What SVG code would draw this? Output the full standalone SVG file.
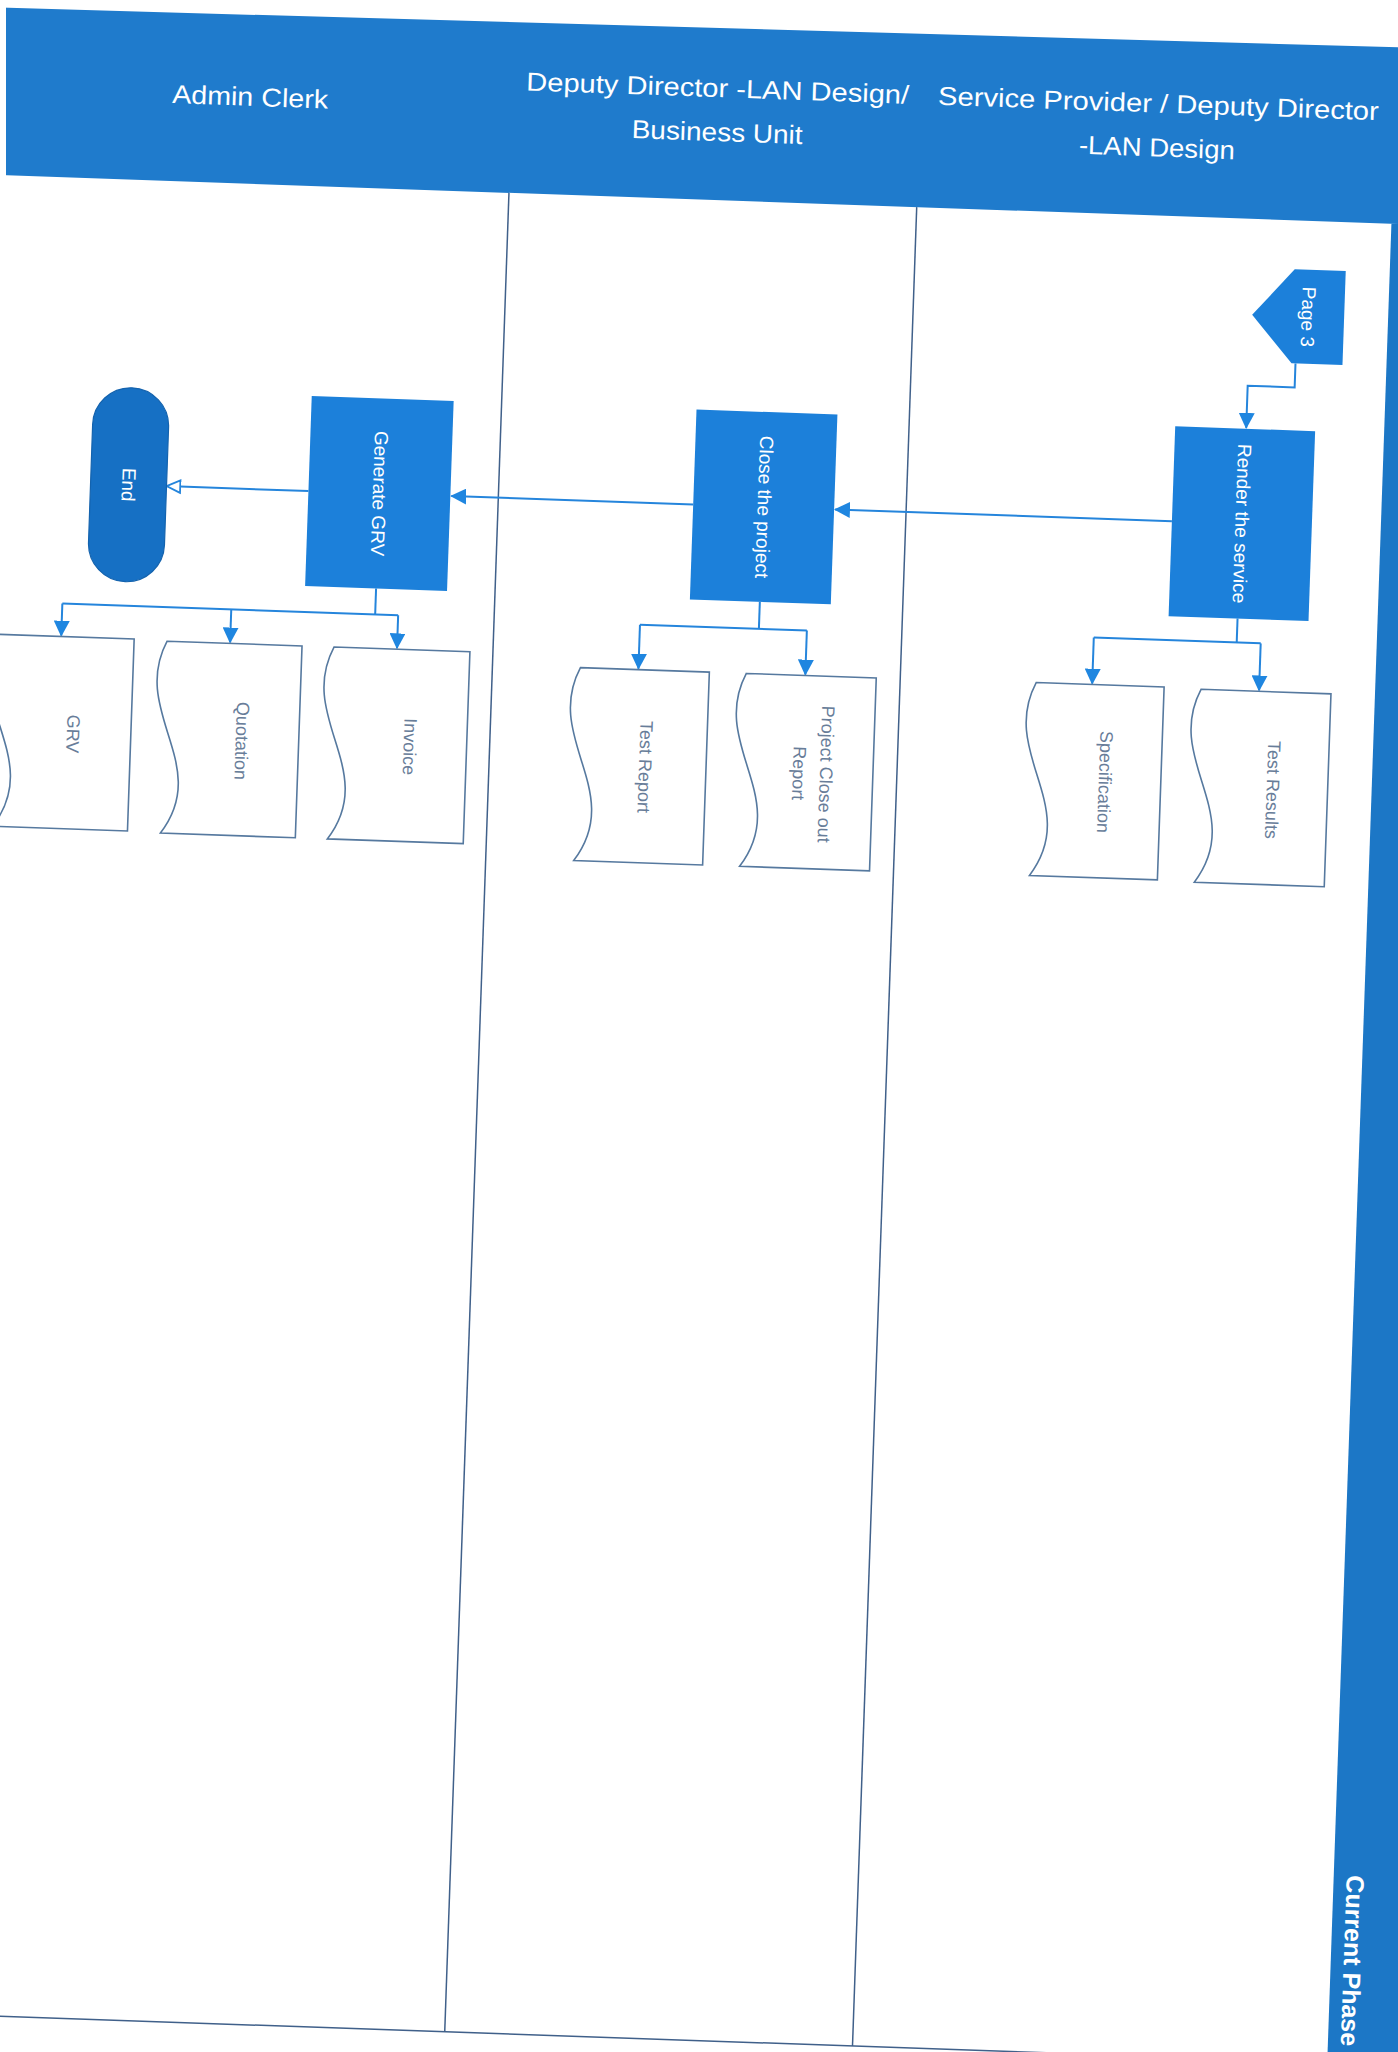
<svg xmlns="http://www.w3.org/2000/svg" width="1398" height="2052" viewBox="0 0 1398 2052">
<defs>
<style>
.hdr{fill:#1f7bcc}
.bar{fill:#1c77c6}
.lane{stroke:#40608a;stroke-width:1.5;fill:none}
.proc{fill:#1c80da}
.term{fill:#1670c4;stroke:#1463ae;stroke-width:1.2}
.doc{fill:#ffffff;stroke:#56799f;stroke-width:1.6}
.ht{font-family:"Liberation Sans",Arial,sans-serif;font-size:26px;fill:#ffffff;text-anchor:middle}
.nt{font-family:"Liberation Sans",Arial,sans-serif;font-size:19px;fill:#ffffff;text-anchor:middle;dominant-baseline:central}
.dt{font-family:"Liberation Sans",Arial,sans-serif;font-size:18px;fill:#687d99;text-anchor:middle;dominant-baseline:central}
.ct{font-family:"Liberation Sans",Arial,sans-serif;font-size:25px;font-weight:bold;fill:#ffffff;dominant-baseline:central}
.con{stroke:#2585dc;stroke-width:2;fill:none}
</style>
<marker id="arr" markerUnits="userSpaceOnUse" markerWidth="16" markerHeight="16" viewBox="0 0 14 14" refX="13" refY="7" orient="auto">
<path d="M0,0 L14,7 L0,14 z" fill="#1f86e0"/>
</marker>
<marker id="arrO" markerUnits="userSpaceOnUse" markerWidth="16" markerHeight="16" viewBox="0 0 14 14" refX="13" refY="7" orient="auto">
<path d="M1,1.5 L13,7 L1,12.5 z" fill="#ffffff" stroke="#2585dc" stroke-width="1.6"/>
</marker>
</defs>
<rect width="1398" height="2052" fill="#ffffff"/>
<g transform="rotate(2 699 1026)">
  <g id="lanes">
    <path class="hdr" d="M-60,32.8 L1460,22.9 L1460,200 L-60,200 Z"/>
    <rect class="bar" x="1363" y="200" width="100" height="1900"/>
    <line class="lane" x1="480" y1="200" x2="480" y2="2040"/>
    <line class="lane" x1="888" y1="200" x2="888" y2="2040"/>
    <line class="lane" x1="-60" y1="2040" x2="1363" y2="2040"/>
    <text class="ht" x="218" y="122" textLength="156" lengthAdjust="spacingAndGlyphs">Admin Clerk</text>
    <text class="ht" x="685" y="97" textLength="383" lengthAdjust="spacingAndGlyphs">Deputy Director -LAN Design/</text>
    <text class="ht" x="686" y="141" textLength="171" lengthAdjust="spacingAndGlyphs">Business Unit</text>
    <text class="ht" x="1126" y="97" textLength="441" lengthAdjust="spacingAndGlyphs">Service Provider / Deputy Director</text>
    <text class="ht" x="1126" y="141" textLength="156" lengthAdjust="spacingAndGlyphs">-LAN Design</text>
    <text class="ct" transform="translate(1385,1852) rotate(90)">Current Phase</text>
  </g>
  <g id="connectors">
    <path class="con" d="M1272,343 V367 H1225 V409" marker-end="url(#arr)"/>
    <path class="con" d="M1154,505 H817" marker-end="url(#arr)"/>
    <path class="con" d="M675,505 H433" marker-end="url(#arr)"/>
    <path class="con" d="M290,505 H148" marker-end="url(#arrO)"/>
    <path class="con" d="M361,600 V626"/>
    <path class="con" d="M48,626 H384"/>
    <path class="con" d="M48,626 V658" marker-end="url(#arr)"/>
    <path class="con" d="M217,626 V659" marker-end="url(#arr)"/>
    <path class="con" d="M384,626 V659" marker-end="url(#arr)"/>
    <path class="con" d="M745,600 V627"/>
    <path class="con" d="M626,627 H793"/>
    <path class="con" d="M626,627 V671" marker-end="url(#arr)"/>
    <path class="con" d="M793,627 V671" marker-end="url(#arr)"/>
    <path class="con" d="M1223,600 V624"/>
    <path class="con" d="M1080,624 H1247"/>
    <path class="con" d="M1080,624 V670" marker-end="url(#arr)"/>
    <path class="con" d="M1247,624 V671" marker-end="url(#arr)"/>
  </g>
  <g id="page3">
    <path class="proc" d="M1268,249 H1319 V343 H1268 L1227,296 Z"/>
    <text class="nt" transform="translate(1283,296) rotate(90)">Page 3</text>
  </g>
  <g id="render">
    <rect class="proc" x="1154" y="410" width="140" height="190"/>
    <text class="nt" transform="translate(1224,505) rotate(90)">Render the service</text>
  </g>
  <g id="close">
    <rect class="proc" x="675" y="410" width="141" height="190"/>
    <text class="nt" transform="translate(746,505) rotate(90)">Close the project</text>
  </g>
  <g id="generate">
    <rect class="proc" x="290" y="410" width="142" height="190"/>
    <text class="nt" transform="translate(361,505) rotate(90)">Generate GRV</text>
  </g>
  <g id="end">
    <rect class="term" x="72" y="408" width="76" height="194" rx="38" ry="38"/>
    <text class="nt" transform="translate(110,505) rotate(90)">End</text>
  </g>
  <g id="doc-grv">
    <path class="doc" d="M-14,659 H121 V851 H-14 C36,781 -49,731 -14,659 Z"/>
    <text class="dt" transform="translate(63,756) rotate(90)">GRV</text>
  </g>
  <g id="doc-quotation">
    <path class="doc" d="M154,660 H289 V852 H154 C204,782 119,732 154,660 Z"/>
    <text class="dt" transform="translate(232,757) rotate(90)">Quotation</text>
  </g>
  <g id="doc-invoice">
    <path class="doc" d="M321,660 H457 V852 H321 C371,782 286,732 321,660 Z"/>
    <text class="dt" transform="translate(400,757) rotate(90)">Invoice</text>
  </g>
  <g id="doc-testreport">
    <path class="doc" d="M568,672 H697 V865 H568 C618,794 533,744 568,672 Z"/>
    <text class="dt" transform="translate(636,769) rotate(90)">Test Report</text>
  </g>
  <g id="doc-closeout">
    <path class="doc" d="M734,672 H864 V865 H734 C784,794 699,744 734,672 Z"/>
    <text class="dt" transform="translate(803.5,770) rotate(90)"><tspan x="0" y="-13.5">Project Close out</tspan><tspan x="0" y="13.5">Report</tspan></text>
  </g>
  <g id="doc-spec">
    <path class="doc" d="M1024,671 H1152 V864 H1024 C1074,793 989,743 1024,671 Z"/>
    <text class="dt" transform="translate(1096,768) rotate(90)">Specification</text>
  </g>
  <g id="doc-testresults">
    <path class="doc" d="M1189,672 H1319 V865 H1189 C1239,794 1154,744 1189,672 Z"/>
    <text class="dt" transform="translate(1264,770) rotate(90)">Test Results</text>
  </g>
</g>
<rect x="0" y="0" width="6" height="185" fill="#ffffff"/>
</svg>
